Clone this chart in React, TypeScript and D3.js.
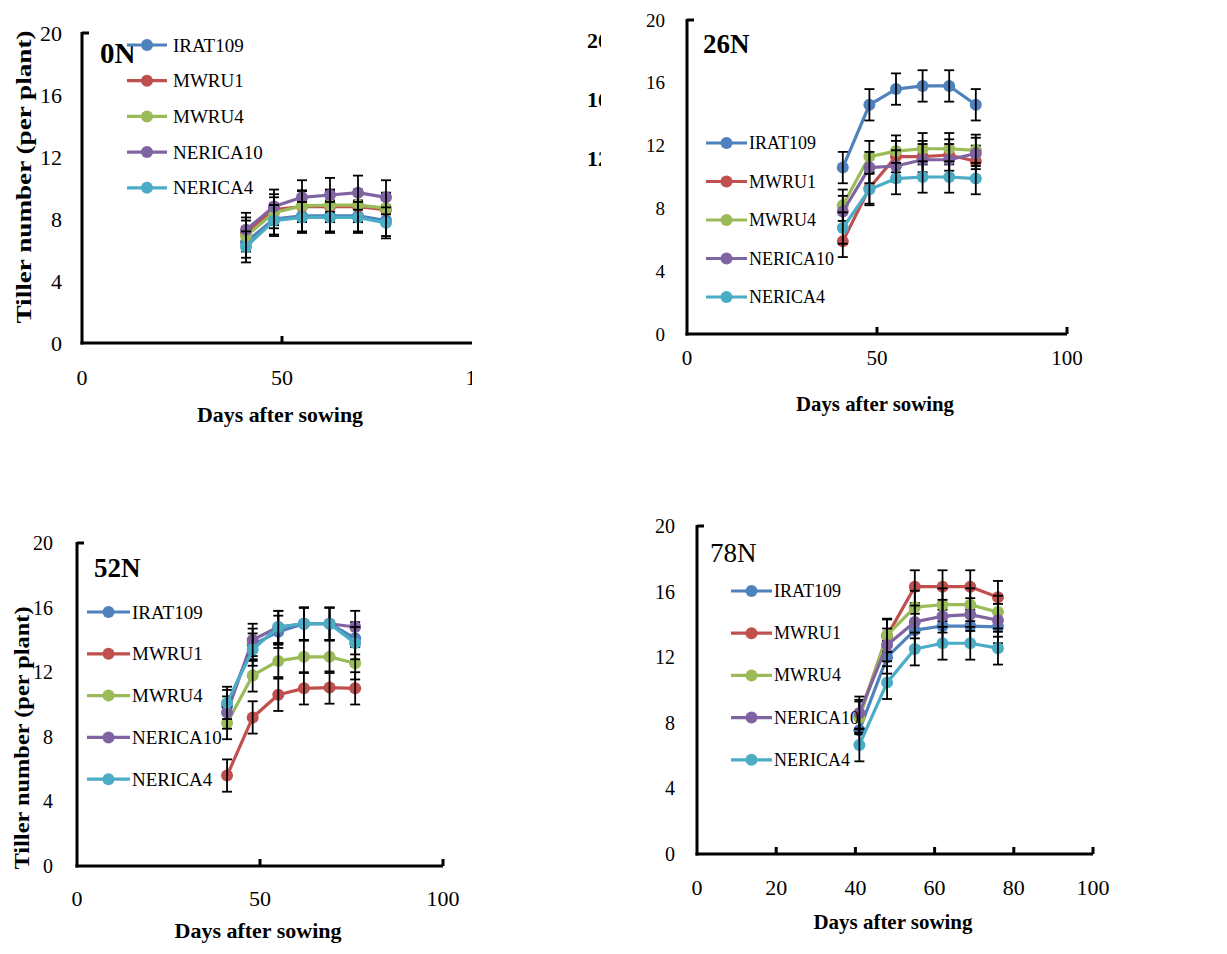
import React from 'react';
import * as d3 from 'd3';

// ---- data ----
const days = [41, 48, 55, 62, 69, 76];
const cultivars = ['IRAT109', 'MWRU1', 'MWRU4', 'NERICA10', 'NERICA4'];
const seriesColors = ['#4F81BD', '#C0504D', '#9BBB59', '#8064A2', '#4BACC6'];

const tiller0N = [
  [6.5, 8.0, 8.2, 8.2, 8.2, 7.9],
  [7.1, 8.6, 8.8, 8.8, 8.8, 8.6],
  [6.9, 8.4, 8.85, 8.9, 8.9, 8.7],
  [7.3, 8.8, 9.4, 9.55, 9.7, 9.4],
  [6.2, 7.9, 8.1, 8.1, 8.1, 7.75],
];
const err0N = [1.0, 1.0, 1.0, 1.1, 1.0];

const tiller26N = [
  [10.6, 14.6, 15.6, 15.8, 15.8, 14.6],
  [5.9, 9.3, 11.3, 11.3, 11.4, 11.0],
  [8.2, 11.3, 11.65, 11.8, 11.8, 11.7],
  [7.8, 10.6, 10.7, 11.1, 11.1, 11.5],
  [6.75, 9.2, 9.9, 10.0, 10.0, 9.9],
];
const err26N = [1.0, 1.0, 1.0, 1.0, 1.0];

const tiller52N = [
  [9.9, 13.7, 14.5, 15.0, 15.0, 14.1],
  [5.6, 9.2, 10.6, 11.0, 11.05, 11.0],
  [8.85, 11.8, 12.7, 12.95, 12.95, 12.55],
  [9.5, 14.0, 14.8, 15.0, 15.0, 14.8],
  [10.1, 13.4, 14.8, 15.0, 15.0, 13.8],
];
const err52N = [1.0, 1.0, 1.0, 1.0, 1.0];

const tiller78N = [
  [7.55, 12.0, 13.65, 13.9, 13.9, 13.85],
  [8.4, 13.3, 16.3, 16.3, 16.3, 15.65],
  [8.3, 13.35, 15.05, 15.2, 15.2, 14.75],
  [8.6, 12.75, 14.15, 14.5, 14.6, 14.25],
  [6.65, 10.45, 12.5, 12.85, 12.85, 12.55],
];
const err78N = [1.0, 1.0, 1.0, 1.0, 1.0];

const yTickValues = [0, 4, 8, 12, 16, 20];
const xTicksCoarse = [0, 50, 100];
const xTicksFine = [0, 20, 40, 60, 80, 100];
const panelLabels = ['0N', '26N', '52N', '78N'];
const xTitleText = 'Days after sowing';
const yTitleText = 'Tiller number (per plant)';
const ghostTickValues = [20, 16, 12];

// ---- layout ----
const FONT = '"Liberation Serif", "Times New Roman", "DejaVu Serif", serif';

const panels = [
  {
    data: tiller0N, err: err0N, xTicks: xTicksCoarse, label: panelLabels[0],
    x0: 82, x1: 482, yTop: 33, yBot: 343,
    yTickFont: 22, yTickGap: 20, xTickFont: 22, xTickDy: 34,
    xTitle: { x: 280, y: 422, size: 22, len: 166 },
    yTitle: { x: 23, y: 177, size: 22, len: 293 },
    labelPos: { x: 100, y: 63, size: 29, weight: 'bold' },
    legend: { lx1: 127, lx2: 167, tx: 173, y0: 45, dy: 35.7, size: 19, len: 72 },
    clipX: 472,
  },
  {
    data: tiller26N, err: err26N, xTicks: xTicksCoarse, label: panelLabels[1],
    x0: 687, x1: 1067, yTop: 20, yBot: 334,
    yTickFont: 19, yTickGap: 22, xTickFont: 21, xTickDy: 24,
    xTitle: { x: 875, y: 411, size: 21, len: 158 },
    yTitle: null,
    labelPos: { x: 703, y: 53, size: 27, weight: 'bold' },
    legend: { lx1: 706, lx2: 747, tx: 749, y0: 143, dy: 38.5, size: 18, len: 69 },
    clipX: null,
  },
  {
    data: tiller52N, err: err52N, xTicks: xTicksCoarse, label: panelLabels[2],
    x0: 77, x1: 443, yTop: 543, yBot: 866,
    yTickFont: 20, yTickGap: 24, xTickFont: 22, xTickDy: 32,
    xTitle: { x: 258, y: 938, size: 22, len: 167 },
    yTitle: { x: 21, y: 738, size: 22, len: 263 },
    labelPos: { x: 94, y: 577, size: 27, weight: 'bold' },
    legend: { lx1: 87, lx2: 130, tx: 132, y0: 612, dy: 41.8, size: 19, len: 72 },
    clipX: null,
  },
  {
    data: tiller78N, err: err78N, xTicks: xTicksFine, label: panelLabels[3],
    x0: 697, x1: 1093, yTop: 526, yBot: 854,
    yTickFont: 20, yTickGap: 22, xTickFont: 22, xTickDy: 33,
    xTitle: { x: 893, y: 929, size: 21, len: 159 },
    yTitle: null,
    labelPos: { x: 710, y: 562, size: 27, weight: 'normal' },
    legend: { lx1: 731, lx2: 772, tx: 774, y0: 591, dy: 42.2, size: 18, len: 69 },
    clipX: null,
  },
];

function Panel({ cfg, idx }: { cfg: any; idx: number }) {
  const x = d3.scaleLinear().domain([0, 100]).range([cfg.x0, cfg.x1]);
  const y = d3.scaleLinear().domain([0, 20]).range([cfg.yBot, cfg.yTop]);
  const line = d3
    .line<number>()
    .x((_, i) => x(days[i]))
    .y((d) => y(d));
  const clipId = `clip-${idx}`;
  const cap = 5;
  const r = 6;

  return (
    <g clipPath={cfg.clipX ? `url(#${clipId})` : undefined}>
      {cfg.clipX && (
        <defs>
          <clipPath id={clipId}>
            <rect x={0} y={0} width={cfg.clipX} height={954} />
          </clipPath>
        </defs>
      )}
      {/* axes */}
      <line x1={cfg.x0} x2={cfg.x0} y1={y(20) - 1} y2={y(0) + 1.5} stroke="#000" strokeWidth={3} />
      <line x1={cfg.x0 - 1.5} x2={x(100)} y1={y(0)} y2={y(0)} stroke="#000" strokeWidth={3} />
      <line x1={cfg.x0} x2={cfg.x0 + 7} y1={y(20)} y2={y(20)} stroke="#000" strokeWidth={3} />
      {cfg.xTicks.filter((t: number) => t > 0).map((t: number) => (
        <line key={t} x1={x(t)} x2={x(t)} y1={y(0)} y2={y(0) - 7} stroke="#000" strokeWidth={3} />
      ))}
      {/* tick labels */}
      {yTickValues.map((t) => (
        <text key={t} x={cfg.x0 - cfg.yTickGap} y={y(t)} textAnchor="end" dominantBaseline="central"
          fontFamily={FONT} fontSize={cfg.yTickFont} fill="#000">{t}</text>
      ))}
      {cfg.xTicks.map((t: number) => (
        <text key={t} x={x(t)} y={y(0) + cfg.xTickDy} textAnchor="middle" dominantBaseline="central"
          fontFamily={FONT} fontSize={cfg.xTickFont} fill="#000">{t}</text>
      ))}
      {/* titles */}
      <text x={cfg.xTitle.x} y={cfg.xTitle.y} textAnchor="middle" fontFamily={FONT} fontWeight="bold"
        fontSize={cfg.xTitle.size} textLength={cfg.xTitle.len} lengthAdjust="spacingAndGlyphs" fill="#000">
        {xTitleText}
      </text>
      {cfg.yTitle && (
        <text transform={`translate(${cfg.yTitle.x},${cfg.yTitle.y}) rotate(-90)`} textAnchor="middle"
          dominantBaseline="central" fontFamily={FONT} fontWeight="bold" fontSize={cfg.yTitle.size}
          textLength={cfg.yTitle.len} lengthAdjust="spacingAndGlyphs" fill="#000">
          {yTitleText}
        </text>
      )}
      {/* series */}
      {cfg.data.map((vals: number[], s: number) => (
        <g key={s}>
          <path d={line(vals) || ''} fill="none" stroke={seriesColors[s]} strokeWidth={3.2} strokeLinejoin="round" />
          {vals.map((v, i) => (
            <circle key={i} cx={x(days[i])} cy={y(v)} r={r} fill={seriesColors[s]} />
          ))}
          {vals.map((v, i) => {
            const e = cfg.err[s];
            const cx = x(days[i]);
            return (
              <g key={'e' + i} stroke="#000" strokeWidth={1.8}>
                <line x1={cx} x2={cx} y1={y(v + e)} y2={y(v - e)} />
                <line x1={cx - cap} x2={cx + cap} y1={y(v + e)} y2={y(v + e)} />
                <line x1={cx - cap} x2={cx + cap} y1={y(v - e)} y2={y(v - e)} />
              </g>
            );
          })}
        </g>
      ))}
      {/* panel label */}
      <text x={cfg.labelPos.x} y={cfg.labelPos.y} fontFamily={FONT} fontWeight={cfg.labelPos.weight}
        fontSize={cfg.labelPos.size} fill="#000">{cfg.label}</text>
      {/* legend */}
      {cultivars.map((c, s) => {
        const ly = cfg.legend.y0 + s * cfg.legend.dy;
        const mx = (cfg.legend.lx1 + cfg.legend.lx2) / 2;
        const scale = c.length / 7;
        return (
          <g key={c}>
            <line x1={cfg.legend.lx1} x2={cfg.legend.lx2} y1={ly} y2={ly} stroke={seriesColors[s]} strokeWidth={3.2} />
            <circle cx={mx} cy={ly} r={r} fill={seriesColors[s]} />
            <text x={cfg.legend.tx} y={ly} dominantBaseline="central" fontFamily={FONT}
              fontSize={cfg.legend.size} fill="#000">{c}</text>
          </g>
        );
      })}
    </g>
  );
}

export default function App() {
  const ghostY = d3.scaleLinear().domain([12, 20]).range([158, 40]);
  return (
    <svg width={1227} height={954} style={{ position: 'absolute', left: 0, top: 0, background: '#fff' }}
      xmlns="http://www.w3.org/2000/svg">
      <rect x={0} y={0} width={1227} height={954} fill="#fff" />
      <defs>
        <clipPath id="ghost-clip">
          <rect x={570} y={0} width={31} height={200} />
        </clipPath>
      </defs>
      {panels.map((p, i) => (
        <Panel key={i} cfg={p} idx={i} />
      ))}
      <g clipPath="url(#ghost-clip)">
        {ghostTickValues.map((t) => (
          <text key={t} x={587} y={ghostY(t)} dominantBaseline="central" fontFamily={FONT}
            fontWeight="bold" fontSize={22} fill="#000">{t}</text>
        ))}
      </g>
    </svg>
  );
}
